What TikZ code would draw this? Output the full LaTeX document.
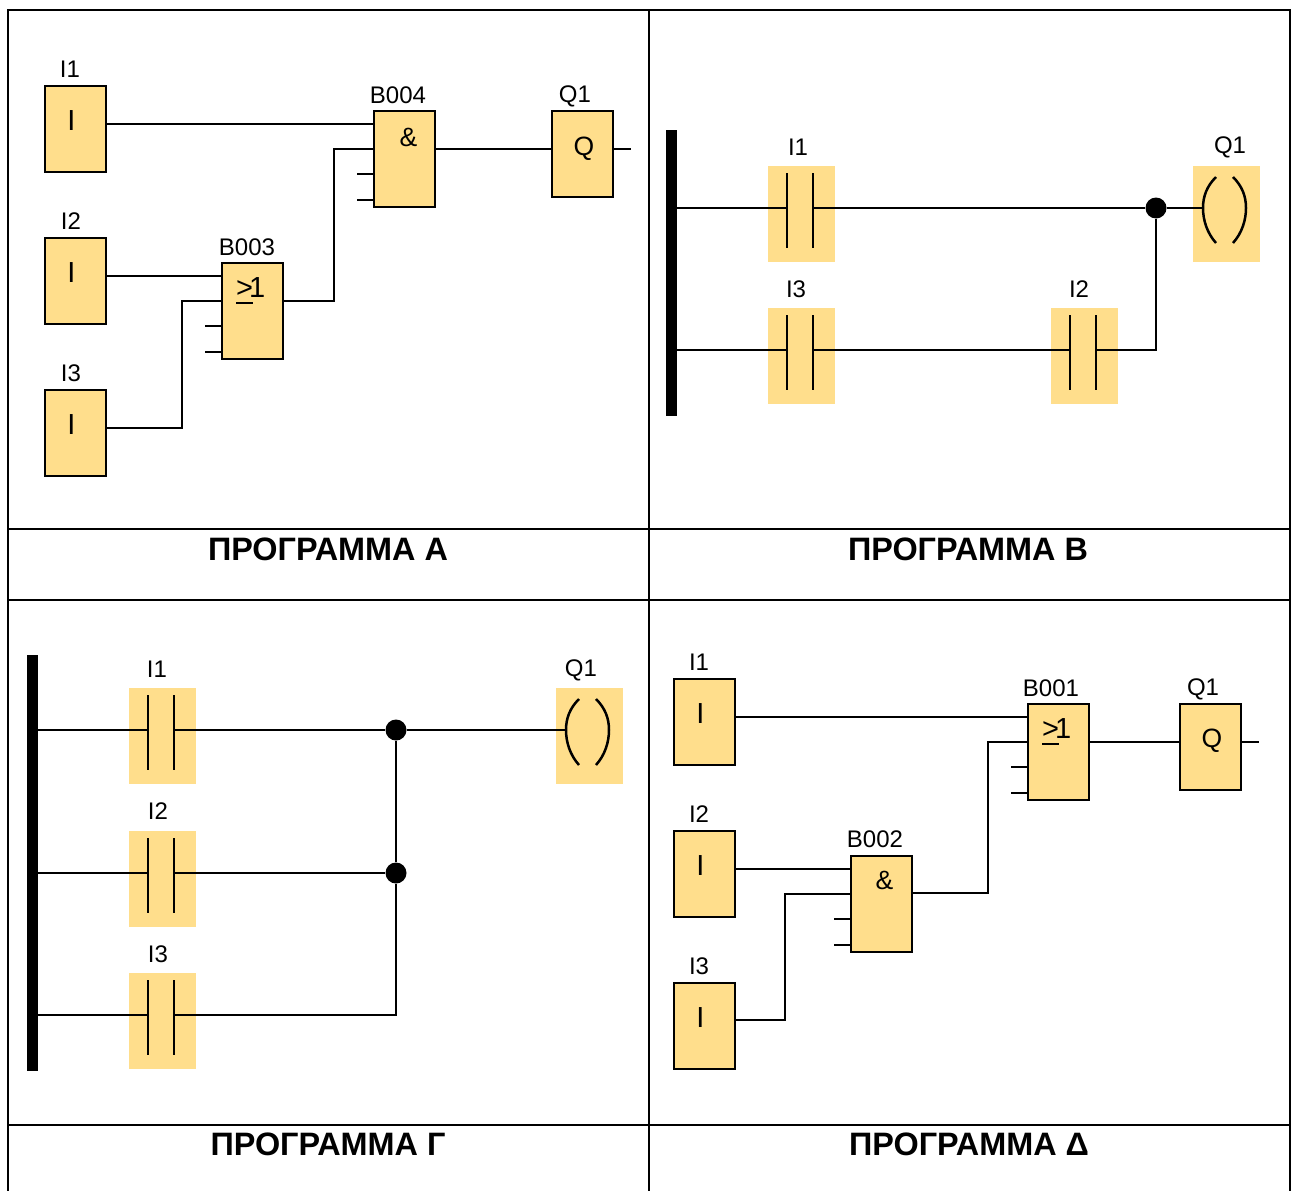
\documentclass[tikz,border=0pt]{standalone}
\usepackage{fontspec}
\setmainfont{Liberation Sans}
\definecolor{blk}{HTML}{FFDE8C}
\newcommand{\lab}[4]{\node[labeltext] (#1) at (#2,#3) {#4};}
\newcommand{\inner}[4]{\node[innertext] (#1) at (#2,#3) {#4};}
\newcommand{\innersm}[4]{\node[innertext,font=\fontsize{26.5}{26.5}\selectfont] (#1) at (#2,#3) {#4};}
\newcommand{\geone}[3]{\node[innertext,anchor=base west] (#1) at (#2,#3) {\vtop{\hbox{>}\kern4.5pt\hrule height 2pt}\kern-4pt 1};}
% name, left, top, width, height
\newcommand{\fbd}[5]{\node[fbdbox,minimum width=#4pt,minimum height=#5pt] (#1) at ({#2+#4/2},{#3+#5/2}) {};}
% name, left, top: contact with wire ends #1-l and #1-r on the bars
\newcommand{\contact}[3]{%
  \node[ladderbox] (#1) at ({#2+33.5},{#3+48}) {};
  \coordinate (#1-l) at ({#2+19},{#3+42});
  \coordinate (#1-r) at ({#2+45},{#3+42});
  \draw[wire] ({#2+19},{#3+7}) -- ({#2+19},{#3+82});
  \draw[wire] ({#2+45},{#3+7}) -- ({#2+45},{#3+82});
}
\newcommand{\coil}[3]{%
  \node[ladderbox] (#1) at ({#2+33.5},{#3+48}) {};
  \coordinate (#1-l) at ({#2+10},{#3+42});
  \draw[wire] ({#2+23},{#3+11}) .. controls ({#2+14},{#3+20}) and ({#2+10},{#3+30}) .. ({#2+10},{#3+42}) .. controls ({#2+10},{#3+54}) and ({#2+14},{#3+67}) .. ({#2+23},{#3+77});
  \draw[wire] ({#2+40},{#3+11}) .. controls ({#2+49},{#3+20}) and ({#2+53},{#3+30}) .. ({#2+53},{#3+42}) .. controls ({#2+53},{#3+54}) and ({#2+49},{#3+67}) .. ({#2+40},{#3+77});
}
\tikzset{
  wire/.style={draw=black,line width=2.5pt},
  frameline/.style={draw=black,line width=2pt},
  fbdbox/.style={draw=black,line width=2.5pt,fill=blk,inner sep=0pt,rectangle},
  ladderbox/.style={fill=blk,inner sep=0pt,rectangle,minimum width=67pt,minimum height=96pt},
  labeltext/.style={inner sep=0pt,font=\fontsize{24}{24}\selectfont,text=black},
  innertext/.style={inner sep=0pt,font=\fontsize{29}{29}\selectfont,text=black},
  titletext/.style={inner sep=0pt,font=\fontsize{32.4}{32.4}\selectfont\bfseries,text=black},
  busbar/.style={fill=black,inner sep=0pt,rectangle,minimum width=11pt},
  dotj/.style={circle,fill=black,inner sep=0pt,minimum size=21pt}
}
\begin{document}
\begin{tikzpicture}[x=1pt,y=-1pt]
\useasboundingbox[fill=white] (0,0) rectangle (1296,1191);
% table
\draw[frameline] (8,1191) -- (8,10) -- (1290,10) -- (1290,1191);
\draw[frameline] (649,10) -- (649,1191);
\draw[frameline] (8,529) -- (1290,529);
\draw[frameline] (8,600) -- (1290,600);
\draw[frameline] (8,1125) -- (1290,1125);
\node[titletext] (ta) at (328,549) {ПРОГРАММА А};
\node[titletext] (tb) at (968,549) {ПРОГРАММА В};
\node[titletext] (tc) at (328,1144) {ПРОГРАММА Г};
\node[titletext] (td) at (969,1144) {ПРОГРАММА Δ};

% ---- Program A
\fbd{ai1}{45}{86}{61}{86}
\fbd{ai2}{45}{238}{61}{86}
\fbd{ai3}{45}{390}{61}{86}
\fbd{ab3}{222}{263}{61}{96}
\fbd{ab4}{374}{111}{61}{96}
\fbd{aq}{552}{111}{61}{86}
\coordinate (aqo) at (631,149);
\coordinate (as1) at (205,326); \coordinate (as2) at (205,352);
\coordinate (as3) at (357,174); \coordinate (as4) at (357,200);
\draw[wire] (ai1.east |- 0,124) -- (ab4.west |- 0,124);
\draw[wire] (ai2.east |- 0,276) -- (ab3.west |- 0,276);
\draw[wire] (ai3.east |- 0,428) -- (182,428) -- (182,301) -- (ab3.west |- 0,301);
\draw[wire] (ab3.east |- 0,301) -- (334,301) -- (334,149) -- (ab4.west |- 0,149);
\draw[wire] (ab4.east |- 0,149) -- (aq.west |- 0,149);
\draw[wire] (aq.east |- 0,149) -- (aqo);
\draw[wire] (as1) -- (ab3.west |- as1);
\draw[wire] (as2) -- (ab3.west |- as2);
\draw[wire] (as3) -- (ab4.west |- as3);
\draw[wire] (as4) -- (ab4.west |- as4);
\lab{al1}{70}{69}{I1}\lab{al2}{71}{221}{I2}\lab{al3}{71}{373}{I3}
\lab{al4}{247}{247}{B003}\lab{al5}{398}{95}{B004}\lab{al6}{575}{96}{Q1}
\inner{ai1t}{71.5}{121}{I}\inner{ai2t}{71.5}{273}{I}\inner{ai3t}{71.5}{425}{I}
\geone{ab3t}{236}{297}\innersm{ab4t}{408.5}{137}{\&}\innersm{aqt}{584}{149}{Q}

% ---- Program B
\node[busbar,minimum height=286pt] (bbus) at (671,273) {};
\contact{bc1}{768}{166}
\contact{bc3}{768}{308}
\contact{bc2}{1051}{308}
\coil{bq}{1193}{166}
\node[dotj] (bj) at (1156,208) {};
\draw[wire] (bbus.east |- bc1-l) -- (bc1-l);
\draw[wire] (bc1-r) -- (bj) -- (bq-l);
\draw[wire] (bbus.east |- bc3-l) -- (bc3-l);
\draw[wire] (bc3-r) -- (bc2-l);
\draw[wire] (bc2-r) -- (bj |- bc2-r) -- (bj);
\lab{bl1}{798}{147}{I1}\lab{bl2}{796}{289}{I3}\lab{bl3}{1079}{289}{I2}\lab{bl4}{1230}{147}{Q1}

% ---- Program G
\node[busbar,minimum height=416pt] (cbus) at (32,863) {};
\contact{cc1}{129}{688}
\contact{cc2}{129}{831}
\contact{cc3}{129}{973}
\coil{cq}{556}{688}
\node[dotj] (cj1) at (396,730) {};
\node[dotj] (cj2) at (396,873) {};
\draw[wire] (cbus.east |- cc1-l) -- (cc1-l);
\draw[wire] (cbus.east |- cc2-l) -- (cc2-l);
\draw[wire] (cbus.east |- cc3-l) -- (cc3-l);
\draw[wire] (cc1-r) -- (cj1) -- (cq-l);
\draw[wire] (cc2-r) -- (cj2);
\draw[wire] (cc3-r) -- (cj1 |- cc3-r) -- (cj2) -- (cj1);
\lab{cl1}{157}{669}{I1}\lab{cl2}{158}{811}{I2}\lab{cl3}{158}{954}{I3}\lab{cl4}{581}{670}{Q1}

% ---- Program D
\fbd{di1}{674}{679}{61}{86}
\fbd{di2}{674}{831}{61}{86}
\fbd{di3}{674}{983}{61}{86}
\fbd{db2}{851}{856}{61}{96}
\fbd{db1}{1028}{704}{61}{96}
\fbd{dq}{1180}{704}{61}{86}
\coordinate (dqo) at (1259,742);
\coordinate (ds1) at (834,919); \coordinate (ds2) at (834,945);
\coordinate (ds3) at (1011,767); \coordinate (ds4) at (1011,793);
\draw[wire] (di1.east |- 0,717) -- (db1.west |- 0,717);
\draw[wire] (di2.east |- 0,869) -- (db2.west |- 0,869);
\draw[wire] (di3.east |- 0,1020) -- (785,1020) -- (785,894) -- (db2.west |- 0,894);
\draw[wire] (db2.east |- 0,893) -- (988,893) -- (988,742) -- (db1.west |- 0,742);
\draw[wire] (db1.east |- 0,742) -- (dq.west |- 0,742);
\draw[wire] (dq.east |- 0,742) -- (dqo);
\draw[wire] (ds1) -- (db2.west |- ds1);
\draw[wire] (ds2) -- (db2.west |- ds2);
\draw[wire] (ds3) -- (db1.west |- ds3);
\draw[wire] (ds4) -- (db1.west |- ds4);
\lab{dl1}{699}{662}{I1}\lab{dl2}{699}{814}{I2}\lab{dl3}{699}{966}{I3}
\lab{dl4}{875}{839}{B002}\lab{dl5}{1051}{688}{B001}\lab{dl6}{1203}{689}{Q1}
\inner{di1t}{700.5}{714}{I}\inner{di2t}{700.5}{866}{I}\inner{di3t}{700.5}{1018}{I}
\innersm{db2t}{884.5}{880}{\&}\geone{db1t}{1042}{738}\innersm{dqt}{1212}{741}{Q}
\end{tikzpicture}
\end{document}
